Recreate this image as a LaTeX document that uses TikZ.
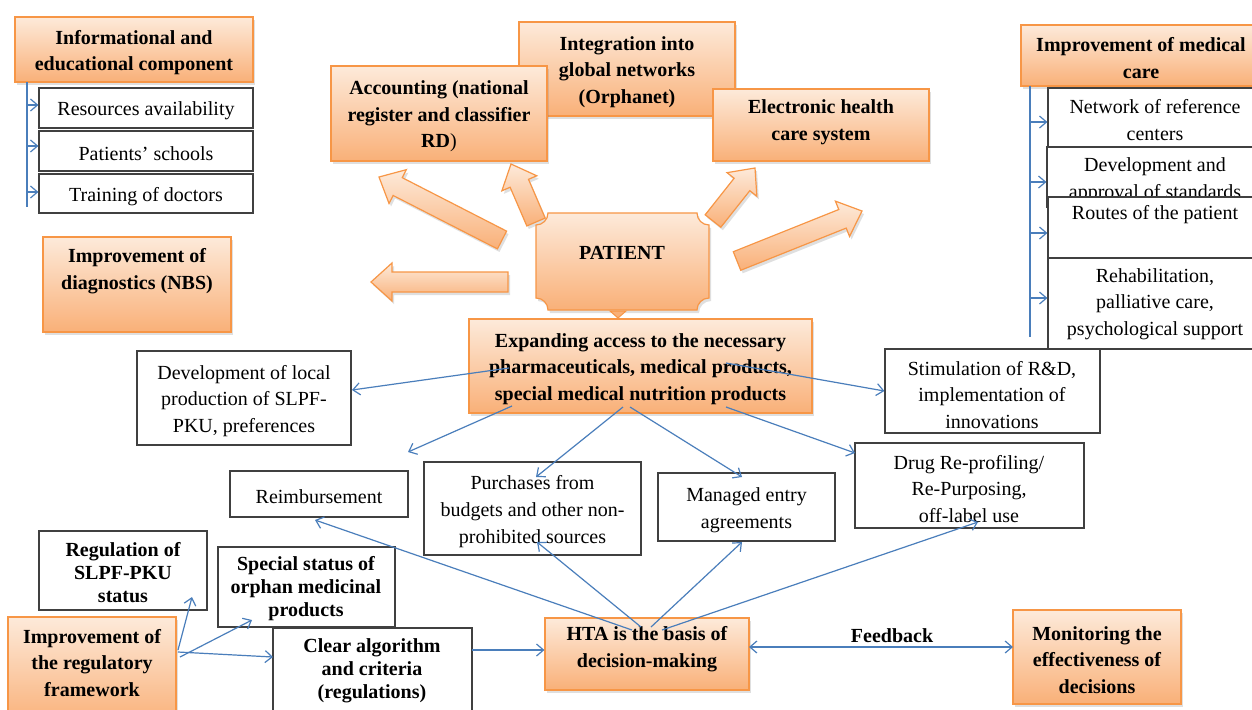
\documentclass[tikz,border=0pt]{standalone}
\usepackage{fontspec}
\setmainfont{Liberation Serif}
\usetikzlibrary{arrows.meta,shadows,fit,calc}
\definecolor{ortop}{RGB}{253,234,218}
\definecolor{orbot}{RGB}{249,176,120}
\definecolor{orbord}{RGB}{247,150,70}
\definecolor{connblue}{RGB}{74,126,187}
\newcommand\fsz{\fontsize{10}{13.3}\selectfont}
\newcommand\fszt{\fontsize{10}{11.5}\selectfont}
\newcommand\blockarr[3]{%
  \coordinate (#1t) at #2; \coordinate (#1p) at #3;
  \coordinate (#1h) at ($(#1p)!10.5pt!(#1t)$);
  \draw[barrow] ($(#1t)!5pt!90:(#1p)$) -- ($(#1h)!5pt!90:(#1p)$) -- ($(#1h)!9.5pt!90:(#1p)$) -- (#1p)
    -- ($(#1h)!9.5pt!-90:(#1p)$) -- ($(#1h)!5pt!-90:(#1p)$) -- ($(#1t)!5pt!-90:(#1p)$) -- cycle;}
% box with centred text: style, name, corner, corner, text style, text
\newcommand\tbox[6]{%
  \node[#1, fit={#3 #4}] (#2) {};
  \node[#5] (#2t) at ($(#2.center)+(0,3)$) {#6};}
\tikzset{
  obox/.style={draw=orbord, line width=0.6pt, top color=ortop, bottom color=orbot,
    drop shadow={opacity=0.25, shadow xshift=1pt, shadow yshift=-1.5pt},
    inner sep=0pt},
  barrow/.style={draw=orbord, line width=0.6pt, top color=ortop, bottom color=orbot,
    drop shadow={opacity=0.25, shadow xshift=1pt, shadow yshift=-1.5pt}},
  wbox/.style={draw=black!75, line width=0.6pt, fill=white, inner sep=0pt},
  txt/.style={align=center, inner sep=0pt, font=\fsz},
  btxt/.style={align=center, inner sep=0pt, font=\fsz\bfseries},
  ttxt/.style={align=center, inner sep=0pt, font=\fszt\bfseries},
  conn/.style={draw=connblue, line width=0.6pt, -{Straight Barb[length=3.5pt,width=6pt]}},
  cline/.style={draw=connblue, line width=0.6pt},
}
\begin{document}
\begin{tikzpicture}[x=0.5pt,y=-0.5pt]
\clip (0,0) rectangle (1252,709);
\fill[white] (0,0) rectangle (1252,709);

% top-left group
\tbox{obox}{info}{(15,17)}{(253,82)}{btxt}{Informational and\\educational component}
\tbox{wbox}{res}{(39,88)}{(253,128)}{txt}{Resources availability}
\tbox{wbox}{sch}{(39,131)}{(253,171)}{txt}{Patients’ schools}
\tbox{wbox}{trn}{(39,174)}{(253,213)}{txt}{Training of doctors}
\coordinate (lvt) at (27,82);
\coordinate (lvb) at (27,207);
\draw[cline] (lvt) -- (lvb);
\coordinate (la1) at (27,105);
\coordinate (la2) at (27,146);
\coordinate (la3) at (27,192);
\draw[conn] (la1) -- (la1 -| res.west);
\draw[conn] (la2) -- (la2 -| sch.west);
\draw[conn] (la3) -- (la3 -| trn.west);

% top centre group
\tbox{obox}{integ}{(519,22)}{(735,116)}{btxt}{Integration into\\global networks\\(Orphanet)}
\tbox{obox}{acct}{(331,66)}{(547,161)}{btxt}{Accounting (national\\register and classifier\\RD{\mdseries )}}
\node[obox, fit={(713,89) (929,161)}] (ehc) {};
\node[btxt] (ehct) at (821,122) {Electronic health\\care system};

% diagnostics
\node[obox, fit={(43,237) (231,332)}] (diag) {};
\node[btxt] (diagt) at (137,271) {Improvement of\\diagnostics (NBS)};

% block arrows around the patient
\blockarr{A}{(502,240)}{(379,177)}
\blockarr{B}{(536,222)}{(511,164)}
\blockarr{C}{(713,221)}{(755,168)}
\blockarr{D}{(737,261)}{(862,211)}
\blockarr{E}{(508,282)}{(371,282)}

% patient
\draw[barrow] (548,213) -- (697,213) arc[start angle=180,end angle=90,radius=12]
  -- (709,298) arc[start angle=270,end angle=180,radius=12]
  -- (548,310) arc[start angle=0,end angle=-90,radius=12]
  -- (536,225) arc[start angle=90,end angle=0,radius=12] -- cycle;
\node[btxt] (patient) at (622,253) {PATIENT};
\draw[draw=orbord, fill=orbot, line width=0.5pt] (610,311) -- (626,311) -- (618,318) -- cycle;

% right group
\node[obox, fit={(1021,25) (1262,86)}] (imc) {};
\node[btxt] (imct) at (1141,58) {Improvement of medical\\care};
\node[wbox, fit={(1048,88) (1262,147)}] (net) {};
\node[txt] (nett) at (1155,120) {Network of reference\\centers};
\node[wbox, fit={(1047,147) (1262,207)}] (dev) {};
\node[txt] (devt) at (1155,180) {Development and\\approval of standards};
\node[wbox, fit={(1048,197) (1262,258)}] (rts) {};
\node[txt] (rtst) at (1155,215) {Routes of the patient};
\node[wbox, fit={(1048,258) (1262,349)}] (reh) {};
\node[txt] (reht) at (1155,304) {Rehabilitation,\\palliative care,\\psychological support};
\coordinate (rvt) at (1030,86);
\coordinate (rvb) at (1030,337);
\draw[cline] (rvt) -- (rvb);
\coordinate (ra1) at (1030,122);
\coordinate (ra2) at (1030,182);
\coordinate (ra3) at (1030,233);
\coordinate (ra4) at (1030,298);
\draw[conn] (ra1) -- (ra1 -| net.west);
\draw[conn] (ra2) -- (ra2 -| dev.west);
\draw[conn] (ra3) -- (ra3 -| rts.west);
\draw[conn] (ra4) -- (ra4 -| reh.west);

% middle
\tbox{obox}{exp}{(469,319)}{(812,413)}{btxt}{Expanding access to the necessary\\pharmaceuticals, medical products,\\special medical nutrition products}
\tbox{wbox}{loc}{(137,351)}{(351,445)}{txt}{Development of local\\production of SLPF-\\PKU, preferences}
\node[wbox, fit={(885,349) (1100,433)}] (stim) {};
\node[txt] (stimt) at (992,395) {Stimulation of R\&D,\\implementation of\\innovations};
\tbox{wbox}{reimb}{(230,471)}{(408,517)}{txt}{Reimbursement}
\tbox{wbox}{purch}{(424,462)}{(641,555)}{txt}{Purchases from\\budgets and other non-\\prohibited sources}
\tbox{wbox}{mea}{(658,473)}{(835,541)}{txt}{Managed entry\\agreements}
\node[wbox, fit={(855,443) (1084,528)}] (drug) {};
\node[txt] (drugt) at (969,489) {Drug Re-profiling/\\Re-Purposing,\\off-label use};

% bottom
\node[wbox, fit={(39,531) (207,610)}] (reg) {};
\node[ttxt] (regt) at (123,573) {Regulation of\\SLPF-PKU\\status};
\node[wbox, fit={(218,547) (395,627)}] (spec) {};
\node[ttxt] (spect) at (306,589) {Special status of\\orphan medicinal\\products};
\node[wbox, fit={(273,628) (472,725)}] (clear) {};
\node[ttxt] (cleart) at (372,671) {Clear algorithm\\and criteria\\(regulations)};
\node[obox, fit={(8,617) (176,725)}] (regf) {};
\node[btxt] (regft) at (92,663) {Improvement of\\the regulatory\\framework};
\node[obox, fit={(545,618) (749,690)}] (hta) {};
\node[btxt] (htat) at (647,649) {HTA is the basis of\\decision-making};
\tbox{obox}{mon}{(1013,610)}{(1181,704)}{btxt}{Monitoring the\\effectiveness of\\decisions}

% connectors from the expanding-access box
\coordinate (e1) at (509,368); \coordinate (e1t) at (352,390);
\coordinate (e2) at (512,406); \coordinate (e2t) at (408,452);
\coordinate (e3) at (623,407); \coordinate (e3t) at (536,477);
\coordinate (e4) at (630,407); \coordinate (e4t) at (742,477);
\coordinate (e5) at (726,363);
\coordinate (e6) at (726,407); \coordinate (e6t) at (855,453);
\draw[conn] (e1) -- (e1t);
\draw[conn] (e2) -- (e2t);
\draw[conn] (e3) -- (e3t);
\draw[conn] (e4) -- (e4t);
\draw[conn] (e5) -- (stim.west);
\draw[conn] (e6) -- (e6t);

% connectors from HTA
\coordinate (h1) at (632,630); \coordinate (h1t) at (315,520);
\coordinate (h2) at (641,627); \coordinate (h2t) at (537,542);
\coordinate (h3) at (651,627); \coordinate (h3t) at (742,542);
\coordinate (h4) at (662,630); \coordinate (h4t) at (978,522);
\draw[conn] (h1) -- (h1t);
\draw[conn] (h2) -- (h2t);
\draw[conn] (h3) -- (h3t);
\draw[conn] (h4) -- (h4t);

\coordinate (cl1) at (472,650);
\draw[conn] (cl1) -- (cl1 -| hta.west);
\coordinate (fb1) at (749,647);
\coordinate (fb2) at (1013,647);
\draw[conn, {Straight Barb[length=3.5pt,width=6pt]}-{Straight Barb[length=3.5pt,width=6pt]}] (fb1) -- (fb2);
\node[btxt] (fb) at (892,636) {Feedback};

% regulatory connectors
\coordinate (r1) at (178,650); \coordinate (r1t) at (192,597);
\coordinate (r2) at (180,657); \coordinate (r2t) at (252,620);
\coordinate (r3) at (178,652); \coordinate (r3t) at (273,657);
\draw[conn] (r1) -- (r1t);
\draw[conn] (r2) -- (r2t);
\draw[conn] (r3) -- (r3t);
\end{tikzpicture}
\end{document}
